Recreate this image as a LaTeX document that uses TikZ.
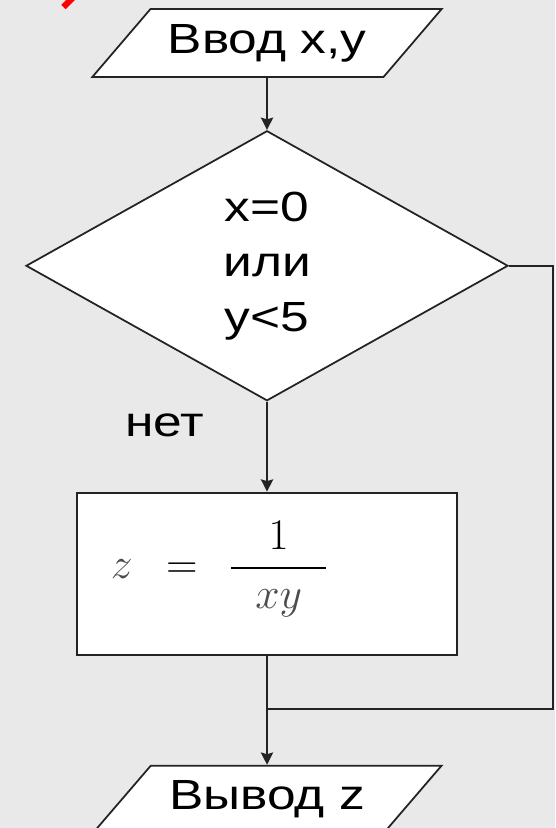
\documentclass[tikz,border=0pt]{standalone}
\usepackage{amsmath}
\usepackage{fontspec}
\newfontfamily\flowfont[FakeStretch=1.22]{Liberation Sans}
\usetikzlibrary{shapes.geometric, arrows.meta, positioning, calc}
\definecolor{pagegray}{RGB}{233,233,233}
\definecolor{linegray}{RGB}{35,35,35}
\tikzset{
	iobox/.style={trapezium, trapezium left angle=37.3, trapezium right angle=142.7,
		trapezium stretches=true, draw=linegray, line width=1pt, fill=white,
		minimum width=7cm, minimum height=1.36cm, inner sep=0pt,
		font=\flowfont\fontsize{24}{31}\selectfont},
	decision/.style={diamond, draw=linegray, line width=1pt, fill=white,
		minimum width=9.64cm, minimum height=5.4cm, inner sep=0pt, align=center,
		font=\flowfont\fontsize{24}{31.3}\selectfont},
	process/.style={rectangle, draw=linegray, line width=1.2pt, fill=white,
		minimum width=7.6cm, minimum height=3.24cm, text height=36pt, text depth=30.2pt,
		font=\fontsize{34}{40}\selectfont},
	edgetext/.style={font=\flowfont\fontsize{24}{31}\selectfont},
	myarrow/.style={-{Stealth[length=7pt, width=7pt, inset=1pt]}, line width=0.9pt, draw=linegray},
	myline/.style={line width=0.9pt, draw=linegray}
}

\begin{document}
\begin{tikzpicture}
	\useasboundingbox (0,0) rectangle (11.1,-16.56);
	\clip (0,0) rectangle (11.1,-16.56);
	\fill[pagegray] (0,0) rectangle (11.1,-16.56);
	\draw[red, line width=3.5pt] (1.46,0.05) -- (1.27,-0.14);

	\node[iobox] (inp) at (5.34,-0.86) {Ввод x,y};
	\node[decision, below=1.04cm of inp] (cond) {x=0\\или\\y<5};
	\node[process, below=1.8cm of cond] (formula)
	{$\color{black!70}z\hspace{19pt}\color{black}{=}\hspace{18pt}
		\dfrac{1}{\makebox[54pt]{$\color{black!70}xy$}}$\hspace{1.9cm}\null};
	\node[iobox, below=2.18cm of formula] (outp) {Вывод z};

	\node[edgetext] (no) at ($(cond.south)+(-2.04,-0.48)$) {нет};

	\coordinate[right=0.88cm of cond.east] (side);
	\coordinate[below=1.07cm of formula.south] (merge);

	\draw[myarrow] (inp) -- (cond);
	\draw[myarrow] (cond) -- (formula);
	\draw[myarrow] (formula) -- (outp);
	\draw[myline] (cond.east) -- (side) |- (merge);
\end{tikzpicture}
\end{document}
